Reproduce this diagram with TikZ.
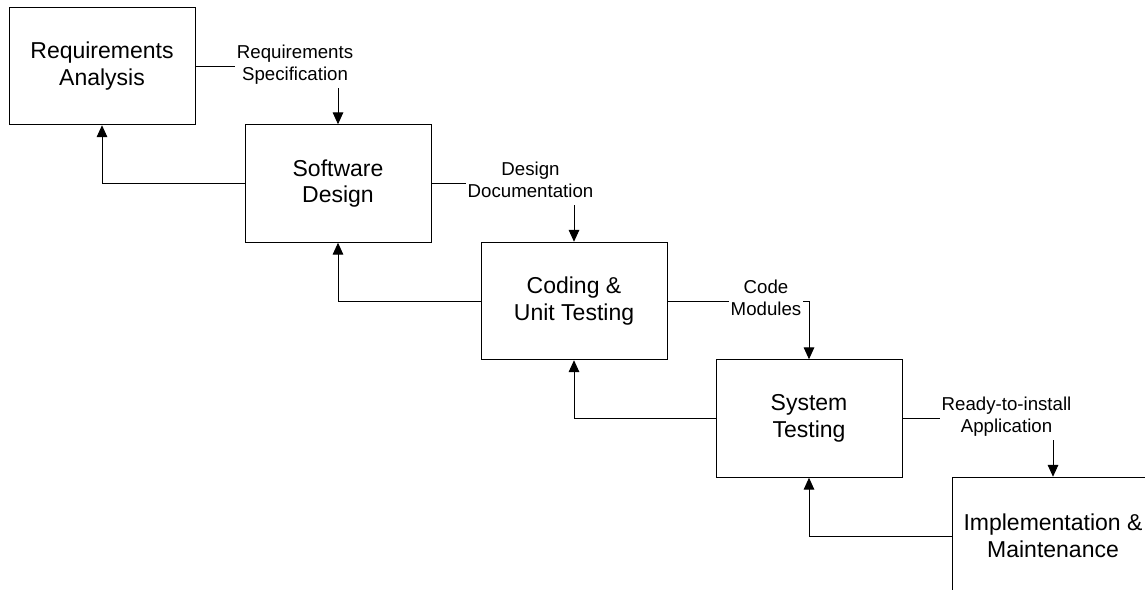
\documentclass[tikz,border=0pt]{standalone}
\usepackage{fontspec}
\setmainfont{Liberation Sans}
\usetikzlibrary{arrows.meta}
\begin{document}
\begin{tikzpicture}[x=0.75pt, y=-0.75pt,
  stage/.style={draw, line width=0.75pt, minimum width=139.5pt, minimum height=88.1pt,
    inner sep=0pt, align=center, font=\fontsize{17.25}{20}\selectfont},
  flow/.style={draw, line width=0.75pt, -{Triangle[length=9pt,width=8pt]}},
  doc/.style={fill=white, inner xsep=1.5pt, inner ysep=0.5pt, align=center,
    font=\fontsize{14}{16.3}\selectfont}]
\useasboundingbox (0,0) rectangle (1145,589);
\clip (0,0) rectangle (1145,589);

% phases of the waterfall
\node[stage] (ra) at (102,66)    {Requirements\\Analysis};
\node[stage] (sd) at (338,183.5) {Software\\Design};
\node[stage] (cu) at (574,301)   {Coding \&\\Unit Testing};
\node[stage] (st) at (809,418.5) {System\\Testing};
\node[stage, minimum width=151.5pt] (im) at (1053,536) {Implementation \&\\Maintenance};

% hand-over from each phase to the next
\draw[flow] (ra.east) -| (sd.north);
\draw[flow] (sd.east) -| (cu.north);
\draw[flow] (cu.east) -| (st.north);
\draw[flow] (st.east) -| (im.north);

% feedback to the previous phase
\draw[flow] (sd.west) -| (ra.south);
\draw[flow] (cu.west) -| (sd.south);
\draw[flow] (st.west) -| (cu.south);
\draw[flow] (im.west) -| (st.south);

% deliverables, set over the hand-over lines
\node[doc] (rs) at (295,66)     {Requirements\\Specification\strut};
\node[doc] (dd) at (530.5,183)  {Design\\Documentation\strut};
\node[doc] (cm) at (766,301)    {Code\\Modules\strut};
\node[doc] (ri) at (1006.5,418) {Ready-to-install\\Application\strut};
\end{tikzpicture}
\end{document}
